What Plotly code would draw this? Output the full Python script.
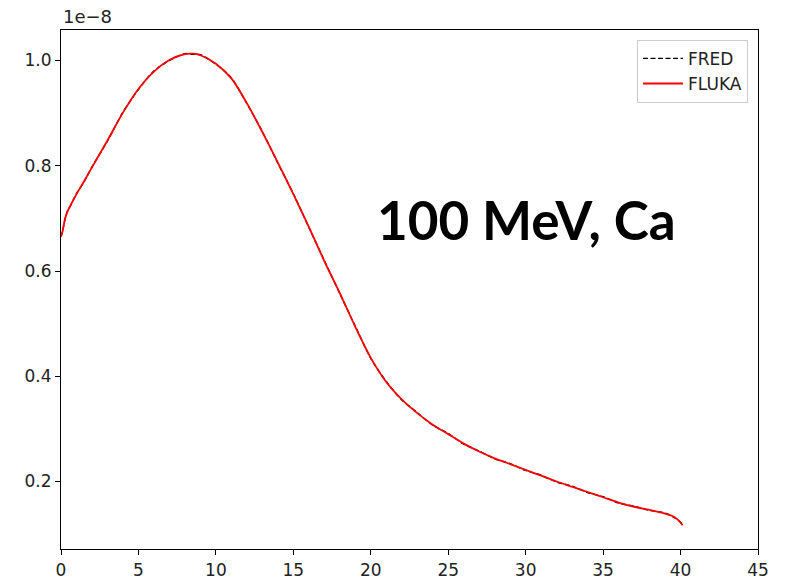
import plotly.graph_objects as go

# depth (x) and dose values (in units of 1e-8)
depth = [0.0, 0.1, 0.25, 0.4, 0.6, 1.0, 1.5, 2.0, 3.0, 4.0, 5.0, 6.0, 7.0, 8.0,
         8.5, 9.0, 10.0, 11.0, 12.0, 13.0, 14.0, 15.0, 16.0, 17.0, 18.0, 19.0,
         20.0, 21.0, 22.0, 23.0, 24.0, 25.0, 26.0, 27.0, 28.0, 29.0, 30.0, 31.0,
         32.0, 33.0, 34.0, 35.0, 36.0, 37.0, 38.0, 39.0, 39.5, 39.8, 40.0, 40.13]
fluka = [0.665, 0.675, 0.698, 0.712, 0.724, 0.746, 0.771, 0.797, 0.848, 0.901,
         0.946, 0.979, 1.001, 1.012, 1.013, 1.010, 0.994, 0.966, 0.919, 0.864,
         0.806, 0.746, 0.684, 0.619, 0.558, 0.494, 0.435, 0.389, 0.356, 0.330,
         0.308, 0.290, 0.272, 0.257, 0.244, 0.233, 0.222, 0.211, 0.200, 0.190,
         0.180, 0.170, 0.160, 0.152, 0.146, 0.139, 0.134, 0.128, 0.122, 0.117]
fred = [0.665, 0.676, 0.697, 0.713, 0.723, 0.747, 0.770, 0.798, 0.847, 0.902,
        0.945, 0.980, 1.000, 1.013, 1.012, 1.011, 0.993, 0.967, 0.918, 0.865,
        0.805, 0.747, 0.683, 0.620, 0.557, 0.495, 0.434, 0.390, 0.355, 0.331,
        0.307, 0.291, 0.271, 0.258, 0.243, 0.234, 0.221, 0.212, 0.199, 0.191,
        0.179, 0.171, 0.159, 0.153, 0.145, 0.140, 0.133, 0.128, 0.122, 0.117]

x_ticks = [0, 5, 10, 15, 20, 25, 30, 35, 40, 45]
y_ticks = [0.2, 0.4, 0.6, 0.8, 1.0]

fig = go.Figure()
fig.add_trace(go.Scatter(x=depth, y=fred, mode="lines", name="FRED",
                         line=dict(color="black", width=1.4, dash="5px,2.5px",
                                   shape="spline", smoothing=0.8)))
fig.add_trace(go.Scatter(x=depth, y=fluka, mode="lines", name="FLUKA",
                         line=dict(color="red", width=1.8, shape="spline", smoothing=0.8)))

axis_common = dict(showline=True, linecolor="black", linewidth=1.2, mirror=True,
                   ticks="outside", ticklen=5, tickcolor="black", showgrid=False,
                   zeroline=False, automargin=False,
                   tickfont=dict(family="DejaVu Sans", size=17, color="#222"))

fig.update_xaxes(range=[0, 45], tickvals=x_ticks, **axis_common)
fig.update_yaxes(range=[0.0717, 1.058], tickvals=y_ticks, tickformat=".1f", **axis_common)

fig.update_layout(
    width=788, height=581,
    margin=dict(l=61, r=30, t=30, b=32),
    paper_bgcolor="white", plot_bgcolor="white",
    showlegend=True,
    legend=dict(x=0.9857, y=0.981, xanchor="right", yanchor="top",
                bgcolor="white", bordercolor="#cccccc", borderwidth=1,
                font=dict(family="DejaVu Sans", size=17, color="#222"),
                itemwidth=40, entrywidth=70, tracegroupgap=0),
    annotations=[
        dict(text="1e\u22128", xref="paper", yref="paper", x=0, y=1.0,
             xanchor="left", yanchor="bottom", yshift=1, showarrow=False,
             font=dict(family="DejaVu Sans", size=18, color="#222")),
        dict(text="<b>100 MeV, Ca</b>", xref="paper", yref="paper", x=0.668, y=0.634,
             xanchor="center", yanchor="middle", showarrow=False,
             font=dict(family="Lato", size=53, color="black")),
    ],
)

fig.write_html("out.html")
